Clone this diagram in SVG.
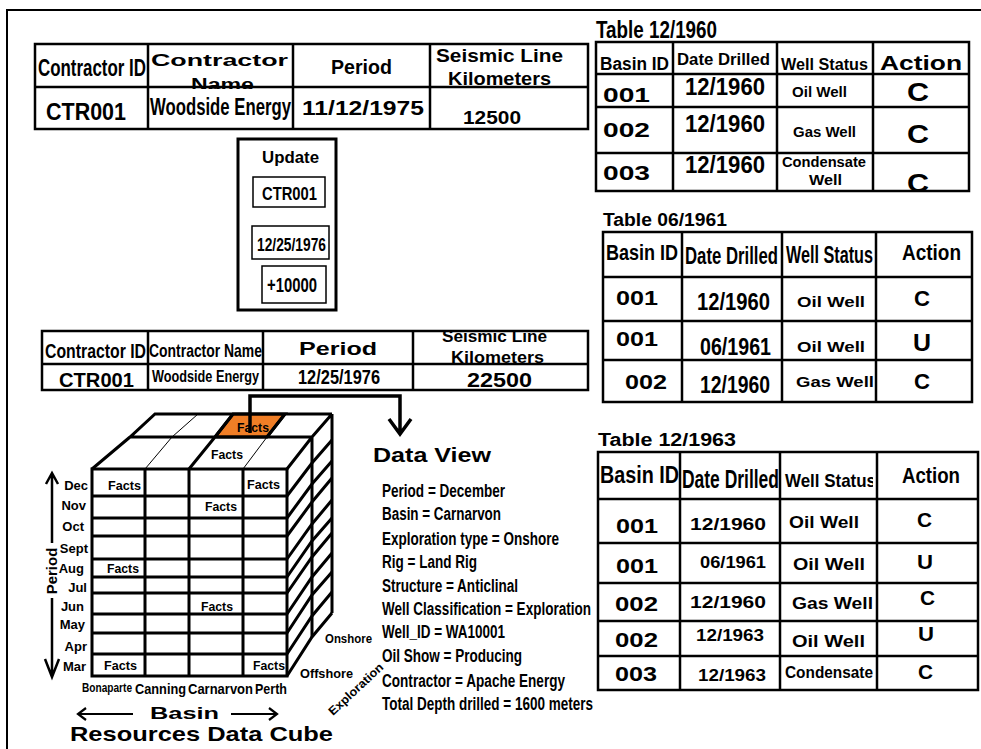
<svg xmlns="http://www.w3.org/2000/svg" width="981" height="749" viewBox="0 0 981 749">
<style>
text{font-family:"Liberation Sans",Arial,sans-serif;font-weight:bold;fill:#000}
.g{fill:none;stroke:#000;stroke-width:2.5}
.k{fill:none;stroke:#000;stroke-width:3}
.th{fill:none;stroke:#000;stroke-width:1}
.bx{fill:#fff;stroke:#000;stroke-width:1.5}
.mo{text-anchor:end;font-size:13px}
.f{font-size:13px}
</style>
<rect width="981" height="749" fill="#fff"/>
<g id="frame"><rect x="7" y="10" width="985" height="750" fill="none" stroke="#000" stroke-width="2"/></g>

<g id="table1">
<text x="38" y="76" font-size="23" textLength="108" lengthAdjust="spacingAndGlyphs">Contractor ID</text>
<text x="151" y="66" font-size="17" textLength="137" lengthAdjust="spacingAndGlyphs">Contractor</text>
<text x="191" y="90" font-size="17" textLength="63" lengthAdjust="spacingAndGlyphs">Name</text>
<text x="331" y="74" font-size="20" textLength="61" lengthAdjust="spacingAndGlyphs">Period</text>
<text x="436" y="62" font-size="19" textLength="127" lengthAdjust="spacingAndGlyphs">Seismic Line</text>
<text x="448" y="85" font-size="19" textLength="103" lengthAdjust="spacingAndGlyphs">Kilometers</text>
<rect x="36" y="89" width="551" height="39" fill="#fff"/>
<text x="46" y="120" font-size="23" textLength="80" lengthAdjust="spacingAndGlyphs">CTR001</text>
<text x="150" y="115" font-size="23" textLength="141" lengthAdjust="spacingAndGlyphs">Woodside Energy</text>
<text x="302" y="115" font-size="21" textLength="122" lengthAdjust="spacingAndGlyphs">11/12/1975</text>
<text x="463" y="124" font-size="19" textLength="58" lengthAdjust="spacingAndGlyphs">12500</text>
<rect class="g" x="35" y="44" width="553" height="85"/>
<path class="g" d="M35 87H588M148 44V129M293 44V129M430 44V129"/>
</g>

<g id="table1960">
<text x="596" y="38" font-size="24" textLength="121" lengthAdjust="spacingAndGlyphs">Table 12/1960</text>
<text x="600" y="70" font-size="18" textLength="69" lengthAdjust="spacingAndGlyphs">Basin ID</text>
<text x="677" y="65" font-size="16" textLength="93" lengthAdjust="spacingAndGlyphs">Date Drilled</text>
<text x="781" y="70" font-size="17" textLength="87" lengthAdjust="spacingAndGlyphs">Well Status</text>
<text x="880" y="70" font-size="21" textLength="82" lengthAdjust="spacingAndGlyphs">Action</text>
<text x="603" y="102" font-size="21" textLength="47" lengthAdjust="spacingAndGlyphs">001</text>
<text x="685" y="95" font-size="23" textLength="80" lengthAdjust="spacingAndGlyphs">12/1960</text>
<text x="792" y="97" font-size="14" textLength="55" lengthAdjust="spacingAndGlyphs">Oil Well</text>
<text x="907" y="101" font-size="26" textLength="22" lengthAdjust="spacingAndGlyphs">C</text>
<text x="603" y="137" font-size="21" textLength="47" lengthAdjust="spacingAndGlyphs">002</text>
<text x="685" y="132" font-size="23" textLength="80" lengthAdjust="spacingAndGlyphs">12/1960</text>
<text x="793" y="137" font-size="14" textLength="63" lengthAdjust="spacingAndGlyphs">Gas Well</text>
<text x="907" y="143" font-size="26" textLength="22" lengthAdjust="spacingAndGlyphs">C</text>
<text x="603" y="180" font-size="21" textLength="47" lengthAdjust="spacingAndGlyphs">003</text>
<text x="685" y="173" font-size="23" textLength="80" lengthAdjust="spacingAndGlyphs">12/1960</text>
<text x="782" y="167" font-size="14" textLength="84" lengthAdjust="spacingAndGlyphs">Condensate</text>
<text x="809" y="185" font-size="14" textLength="33" lengthAdjust="spacingAndGlyphs">Well</text>
<text x="907" y="192" font-size="26" textLength="22" lengthAdjust="spacingAndGlyphs">C</text>
<rect x="590" y="193" width="385" height="10" fill="#fff"/>
<rect class="g" x="596" y="42" width="373" height="149"/>
<path class="g" d="M596 74H969M596 107H969M596 153H969M673 42V191M777 42V191M873 42V191"/>
</g>

<g id="update">
<rect x="238" y="139" width="98" height="171" fill="#fff" stroke="#000" stroke-width="3"/>
<text x="262" y="163" font-size="17" textLength="57" lengthAdjust="spacingAndGlyphs">Update</text>
<rect class="bx" x="253" y="177" width="72" height="30"/>
<text x="262" y="200" font-size="18" textLength="55" lengthAdjust="spacingAndGlyphs">CTR001</text>
<rect class="bx" x="252" y="226" width="77" height="33"/>
<text x="257" y="251" font-size="18" textLength="69" lengthAdjust="spacingAndGlyphs">12/25/1976</text>
<rect class="bx" x="262" y="266" width="64" height="37"/>
<text x="267" y="292" font-size="20" textLength="50" lengthAdjust="spacingAndGlyphs">+10000</text>
</g>

<g id="table2">
<text x="45" y="358" font-size="20" textLength="101" lengthAdjust="spacingAndGlyphs">Contractor ID</text>
<text x="149" y="357" font-size="19" textLength="113" lengthAdjust="spacingAndGlyphs">Contractor Name</text>
<text x="299" y="355" font-size="18" textLength="78" lengthAdjust="spacingAndGlyphs">Period</text>
<text x="442" y="342" font-size="16" textLength="105" lengthAdjust="spacingAndGlyphs">Seismic Line</text>
<text x="451" y="363" font-size="16" textLength="93" lengthAdjust="spacingAndGlyphs">Kilometers</text>
<text x="59" y="387" font-size="20" textLength="75" lengthAdjust="spacingAndGlyphs">CTR001</text>
<text x="152" y="382" font-size="17" textLength="107" lengthAdjust="spacingAndGlyphs">Woodside Energy</text>
<text x="298" y="384" font-size="20" textLength="82" lengthAdjust="spacingAndGlyphs">12/25/1976</text>
<text x="467" y="387" font-size="20" textLength="65" lengthAdjust="spacingAndGlyphs">22500</text>
<rect class="g" x="42" y="331" width="546" height="59"/>
<path class="g" d="M42 364H588M148 331V390M263 331V390M413 331V390"/>
</g>

<g id="table1961">
<text x="603" y="226" font-size="18" textLength="124" lengthAdjust="spacingAndGlyphs">Table 06/1961</text>
<text x="606" y="260" font-size="22" textLength="72" lengthAdjust="spacingAndGlyphs">Basin ID</text>
<text x="685" y="264" font-size="24" textLength="93" lengthAdjust="spacingAndGlyphs">Date Drilled</text>
<text x="786" y="263" font-size="23" textLength="87" lengthAdjust="spacingAndGlyphs">Well Status</text>
<text x="902" y="260" font-size="22" textLength="59" lengthAdjust="spacingAndGlyphs">Action</text>
<text x="616" y="305" font-size="20" textLength="42" lengthAdjust="spacingAndGlyphs">001</text>
<text x="697" y="310" font-size="23" textLength="73" lengthAdjust="spacingAndGlyphs">12/1960</text>
<text x="797" y="307" font-size="15" textLength="68" lengthAdjust="spacingAndGlyphs">Oil Well</text>
<text x="914" y="306" font-size="22" textLength="16" lengthAdjust="spacingAndGlyphs">C</text>
<text x="616" y="346" font-size="20" textLength="42" lengthAdjust="spacingAndGlyphs">001</text>
<text x="700" y="355" font-size="23" textLength="71" lengthAdjust="spacingAndGlyphs">06/1961</text>
<text x="797" y="352" font-size="15" textLength="68" lengthAdjust="spacingAndGlyphs">Oil Well</text>
<text x="913" y="351" font-size="24" textLength="18" lengthAdjust="spacingAndGlyphs">U</text>
<text x="625" y="389" font-size="20" textLength="42" lengthAdjust="spacingAndGlyphs">002</text>
<text x="700" y="393" font-size="23" textLength="70" lengthAdjust="spacingAndGlyphs">12/1960</text>
<text x="796" y="387" font-size="15" textLength="78" lengthAdjust="spacingAndGlyphs">Gas Well</text>
<text x="914" y="389" font-size="22" textLength="16" lengthAdjust="spacingAndGlyphs">C</text>
<rect class="g" x="603" y="232" width="369" height="170"/>
<path class="g" d="M603 277H972M603 321H972M603 360H972M682 232V402M782 232V402M876 232V402"/>
</g>

<g id="table1963">
<text x="598" y="446" font-size="18" textLength="138" lengthAdjust="spacingAndGlyphs">Table 12/1963</text>
<text x="600" y="483" font-size="23" textLength="79" lengthAdjust="spacingAndGlyphs">Basin ID</text>
<text x="682" y="488" font-size="25" textLength="97" lengthAdjust="spacingAndGlyphs">Date Drilled</text>
<text x="785" y="487" font-size="19" textLength="91" lengthAdjust="spacingAndGlyphs">Well Status</text>
<text x="902" y="483" font-size="22" textLength="58" lengthAdjust="spacingAndGlyphs">Action</text>
<text x="616" y="533" font-size="21" textLength="42" lengthAdjust="spacingAndGlyphs">001</text>
<text x="690" y="530" font-size="16" textLength="76" lengthAdjust="spacingAndGlyphs">12/1960</text>
<text x="789" y="528" font-size="17" textLength="70" lengthAdjust="spacingAndGlyphs">Oil Well</text>
<text x="917" y="527" font-size="20" textLength="15" lengthAdjust="spacingAndGlyphs">C</text>
<text x="616" y="573" font-size="21" textLength="42" lengthAdjust="spacingAndGlyphs">001</text>
<text x="700" y="568" font-size="16" textLength="66" lengthAdjust="spacingAndGlyphs">06/1961</text>
<text x="793" y="570" font-size="17" textLength="72" lengthAdjust="spacingAndGlyphs">Oil Well</text>
<text x="917" y="569" font-size="20" textLength="16" lengthAdjust="spacingAndGlyphs">U</text>
<text x="615" y="611" font-size="21" textLength="43" lengthAdjust="spacingAndGlyphs">002</text>
<text x="690" y="608" font-size="16" textLength="76" lengthAdjust="spacingAndGlyphs">12/1960</text>
<text x="792" y="609" font-size="17" textLength="81" lengthAdjust="spacingAndGlyphs">Gas Well</text>
<text x="920" y="605" font-size="20" textLength="15" lengthAdjust="spacingAndGlyphs">C</text>
<text x="615" y="647" font-size="21" textLength="43" lengthAdjust="spacingAndGlyphs">002</text>
<text x="696" y="641" font-size="16" textLength="68" lengthAdjust="spacingAndGlyphs">12/1963</text>
<text x="792" y="647" font-size="17" textLength="73" lengthAdjust="spacingAndGlyphs">Oil Well</text>
<text x="918" y="641" font-size="20" textLength="16" lengthAdjust="spacingAndGlyphs">U</text>
<text x="615" y="681" font-size="21" textLength="42" lengthAdjust="spacingAndGlyphs">003</text>
<text x="698" y="681" font-size="16" textLength="68" lengthAdjust="spacingAndGlyphs">12/1963</text>
<text x="785" y="678" font-size="16" textLength="88" lengthAdjust="spacingAndGlyphs">Condensate</text>
<text x="918" y="679" font-size="20" textLength="15" lengthAdjust="spacingAndGlyphs">C</text>
<rect x="873" y="455" width="6" height="40" fill="#fff"/>
<rect class="g" x="598" y="452" width="380" height="238"/>
<path class="g" d="M598 499H978M598 543H978M598 583H978M598 621H978M598 656H978M680 452V690M780 452V690M877 452V690"/>
</g>

<g id="cube">
<polygon points="215,437 233,414 285,414 267,437" fill="#F07E26"/>
<path class="k" d="M92 469H287V676H92ZM145 469V676M189 469V676M243 469V676M92 496H287M92 518H287M92 536H287M92 559H287M92 577H287M92 593H287M92 614H287M92 633H287M92 654H287"/>
<path class="k" d="M92 469L130 437L155 414H332M130 437H312M287 469L312 437L332 414M189 469L215 437L233 414M267 437L285 414M312 437V637M332 414V613"/>
<path class="th" d="M145 469L172 437L198 414M243 469L267 437"/>
<path class="k" d="M287 496L312 463L332 440M287 518L312 484L332 461M287 536L312 502L332 478M287 559L312 524L332 500M287 577L312 541L332 518M287 593L312 557L332 533M287 614L312 577L332 553M287 633L312 595L332 572M287 654L312 616L332 592M287 676L312 637L332 613"/>
<polygon points="215,437 233,414 285,414 267,437" fill="none" stroke="#000" stroke-width="3"/>
<text class="f" x="237" y="432" textLength="32" lengthAdjust="spacingAndGlyphs">Facts</text>
<text class="f" x="211" y="459" textLength="32" lengthAdjust="spacingAndGlyphs">Facts</text>
<text class="f" x="108" y="490" textLength="33" lengthAdjust="spacingAndGlyphs">Facts</text>
<text class="f" x="247" y="489" textLength="33" lengthAdjust="spacingAndGlyphs">Facts</text>
<text class="f" x="205" y="511" textLength="32" lengthAdjust="spacingAndGlyphs">Facts</text>
<text class="f" x="107" y="573" textLength="32" lengthAdjust="spacingAndGlyphs">Facts</text>
<text class="f" x="201" y="611" textLength="32" lengthAdjust="spacingAndGlyphs">Facts</text>
<text class="f" x="104" y="670" textLength="33" lengthAdjust="spacingAndGlyphs">Facts</text>
<text class="f" x="253" y="670" textLength="32" lengthAdjust="spacingAndGlyphs">Facts</text>
</g>

<g id="period-axis">
<text class="mo" x="88" y="490">Dec</text>
<text class="mo" x="86" y="510">Nov</text>
<text class="mo" x="84" y="531">Oct</text>
<text class="mo" x="88" y="553">Sept</text>
<text class="mo" x="84" y="573">Aug</text>
<text class="mo" x="87" y="592">Jul</text>
<text class="mo" x="84" y="611">Jun</text>
<text class="mo" x="85" y="629">May</text>
<text class="mo" x="87" y="651">Apr</text>
<text class="mo" x="86" y="671">Mar</text>
<path d="M52 474V543M52 598V676M46 484L52 473L58 484M45 659L52 677L59 659" fill="none" stroke="#000" stroke-width="2.5"/>
<text x="57" y="571" font-size="15" text-anchor="middle" transform="rotate(-90 57 571)">Period</text>
</g>

<g id="basin-axis">
<text x="82" y="692" font-size="12" textLength="50" lengthAdjust="spacingAndGlyphs">Bonaparte</text>
<text x="135" y="694" font-size="14" textLength="51" lengthAdjust="spacingAndGlyphs">Canning</text>
<text x="188" y="694" font-size="14" textLength="65" lengthAdjust="spacingAndGlyphs">Carnarvon</text>
<text x="255" y="694" font-size="14" textLength="32" lengthAdjust="spacingAndGlyphs">Perth</text>
<path d="M78 714H133M86 708L78 714L86 720M231 714H277M269 708L277 714L269 720" fill="none" stroke="#000" stroke-width="2.2"/>
<text x="150" y="719" font-size="17" textLength="69" lengthAdjust="spacingAndGlyphs">Basin</text>
<text x="70" y="741" font-size="21" textLength="263" lengthAdjust="spacingAndGlyphs">Resources Data Cube</text>
</g>

<g id="exploration-axis">
<text x="325" y="643" font-size="12" textLength="47" lengthAdjust="spacingAndGlyphs">Onshore</text>
<text x="300" y="678" font-size="13.5" textLength="53" lengthAdjust="spacingAndGlyphs">Offshore</text>
<text x="333" y="716" font-size="12" textLength="70" lengthAdjust="spacingAndGlyphs" transform="rotate(-43 333 716)">Exploration</text>
</g>

<g id="dataview">
<text x="373" y="462" font-size="21" textLength="118" lengthAdjust="spacingAndGlyphs">Data View</text>
<text x="382" y="497" font-size="18" textLength="123" lengthAdjust="spacingAndGlyphs">Period = December</text>
<text x="382" y="520" font-size="18" textLength="119" lengthAdjust="spacingAndGlyphs">Basin = Carnarvon</text>
<text x="382" y="545" font-size="18" textLength="177" lengthAdjust="spacingAndGlyphs">Exploration type = Onshore</text>
<text x="382" y="568" font-size="18" textLength="95" lengthAdjust="spacingAndGlyphs">Rig = Land Rig</text>
<text x="382" y="592" font-size="18" textLength="136" lengthAdjust="spacingAndGlyphs">Structure = Anticlinal</text>
<text x="382" y="615" font-size="18" textLength="209" lengthAdjust="spacingAndGlyphs">Well Classification = Exploration</text>
<text x="382" y="638" font-size="18" textLength="123" lengthAdjust="spacingAndGlyphs">Well_ID = WA10001</text>
<text x="382" y="662" font-size="18" textLength="140" lengthAdjust="spacingAndGlyphs">Oil Show = Producing</text>
<text x="382" y="687" font-size="18" textLength="183" lengthAdjust="spacingAndGlyphs">Contractor = Apache Energy</text>
<text x="382" y="710" font-size="18" textLength="211" lengthAdjust="spacingAndGlyphs">Total Depth drilled = 1600 meters</text>
</g>

<g id="connectors">
<path d="M250 433V396H400V433M389 419L400 434L411 419" fill="none" stroke="#000" stroke-width="3.5"/>
</g>
</svg>
